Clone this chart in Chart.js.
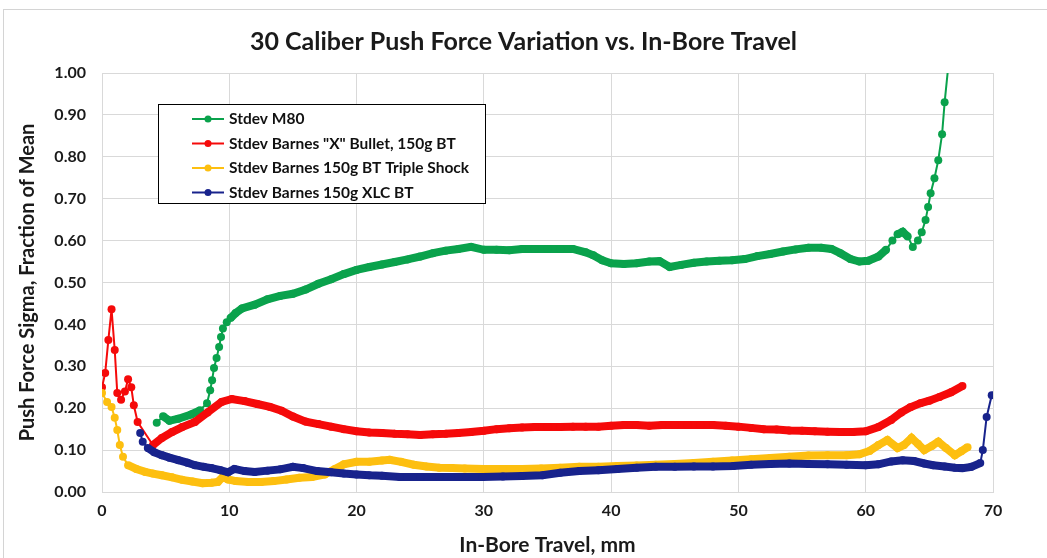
<!DOCTYPE html>
<html>
<head>
<meta charset="utf-8">
<script src="https://cdn.jsdelivr.net/npm/chart.js@4.4.1/dist/chart.umd.min.js"></script>
<style>
    html, body { margin: 0; padding: 0; background: #fff; }
</style>
</head>
<body>
<canvas id="chart" width="1047" height="558"></canvas>
<script>
'use strict';

/* ── Data ────────────────────────────────────────────────────── */
const xTicks = [0, 10, 20, 30, 40, 50, 60, 70];

const seriesNames = [
    'Stdev M80',
    'Stdev Barnes "X" Bullet, 150g BT',
    'Stdev Barnes 150g BT Triple Shock',
    'Stdev Barnes 150g XLC BT',
];

const m80X = [4.3, 4.8, 5.3, 6, 7, 7.7, 8.25, 8.5, 8.65, 8.8, 9.0, 9.2, 9.35, 9.5, 9.8, 10.1, 10.5, 11, 12, 13, 14, 15, 16, 17, 18, 19, 20, 21, 22, 23, 24, 25, 26, 27, 28, 29, 30, 31, 32, 33, 34, 35, 36, 37, 38, 38.6, 39.3, 40, 41, 42, 43, 43.8, 44.6, 45.5, 46.5, 47.5, 48.5, 49.5, 50.5, 51.5, 52.5, 53.5, 54.5, 55.5, 56.5, 57.3, 58, 58.8, 59.5, 60.2, 61, 61.6, 62.1, 62.5, 62.9, 63.3, 63.7, 64.1, 64.4, 64.7, 64.9, 65.1, 65.4, 65.7, 66.0, 66.2, 66.6];
const m80Y = [0.165, 0.181, 0.170, 0.175, 0.185, 0.195, 0.212, 0.243, 0.267, 0.296, 0.32, 0.346, 0.37, 0.39, 0.405, 0.415, 0.427, 0.438, 0.447, 0.46, 0.468, 0.473, 0.483, 0.497, 0.508, 0.52, 0.53, 0.537, 0.543, 0.549, 0.555, 0.562, 0.57, 0.576, 0.58, 0.585, 0.578, 0.578, 0.577, 0.58, 0.58, 0.58, 0.58, 0.58, 0.572, 0.565, 0.553, 0.546, 0.544, 0.546, 0.55, 0.551, 0.537, 0.542, 0.547, 0.55, 0.552, 0.553, 0.556, 0.563, 0.568, 0.574, 0.579, 0.583, 0.583, 0.58, 0.57, 0.556, 0.55, 0.552, 0.562, 0.578, 0.6, 0.615, 0.621, 0.61, 0.585, 0.6, 0.62, 0.649, 0.68, 0.713, 0.749, 0.792, 0.854, 0.93, 1.05];

const xBulletX = [0, 0.25, 0.5, 0.75, 1.0, 1.2, 1.5, 1.8, 2.05, 2.3, 2.5, 2.8, 4.0, 4.7, 5.5, 6.3, 7.3, 8.3, 9.4, 10.2, 11.2, 12.2, 13.2, 14.1, 15, 16, 17, 18, 19, 20, 21, 22, 23, 24, 25, 26, 27, 28, 29, 30, 31, 32, 33, 34, 35, 36, 37, 38, 39, 40, 41, 42, 43, 44, 45, 46, 47, 48, 49, 50, 51, 52, 53, 54, 55, 56, 57, 58, 59, 60, 61, 62, 62.8, 63.5, 64.3, 65, 65.8, 66.7, 67.6];
const xBulletY = [0.25, 0.284, 0.363, 0.436, 0.339, 0.236, 0.22, 0.24, 0.269, 0.25, 0.207, 0.167, 0.112, 0.129, 0.143, 0.155, 0.167, 0.19, 0.215, 0.222, 0.217, 0.21, 0.203, 0.194, 0.18, 0.168, 0.162, 0.156, 0.15, 0.145, 0.142, 0.141, 0.139, 0.138, 0.136, 0.138, 0.139, 0.141, 0.143, 0.146, 0.15, 0.152, 0.154, 0.155, 0.155, 0.155, 0.156, 0.156, 0.156, 0.158, 0.16, 0.16, 0.158, 0.16, 0.16, 0.16, 0.16, 0.16, 0.158, 0.156, 0.153, 0.15, 0.149, 0.147, 0.146, 0.145, 0.144, 0.143, 0.143, 0.145, 0.155, 0.172, 0.19, 0.202, 0.212, 0.218, 0.227, 0.238, 0.253];

const tripleX = [0, 0.4, 0.75, 1.0, 1.2, 1.4, 1.65, 2.05, 2.7, 3.4, 4, 4.7, 5.5, 6.3, 7.1, 7.9, 8.6, 9.1, 9.5, 9.9, 10.5, 11.5, 12.5, 13.5, 14.5, 15.5, 16.5, 17.5, 18.3, 19, 20, 21, 22, 22.6, 23.5, 24.5, 25.5, 26.5, 27.5, 28.5, 30, 31.5, 33, 34.5, 36, 37.5, 39, 40.5, 42, 43.5, 45, 46.5, 48, 49.5, 51, 52.5, 54, 55.5, 57, 58.5, 59.5, 60.3, 61, 61.7, 62.5, 63, 63.6, 64.1, 64.6, 65.2, 65.7, 66.3, 67, 67.5, 68];
const tripleY = [0.236, 0.215, 0.203, 0.177, 0.148, 0.112, 0.084, 0.064, 0.055, 0.048, 0.044, 0.04, 0.035, 0.029, 0.025, 0.021, 0.022, 0.024, 0.036, 0.03, 0.026, 0.024, 0.024, 0.026, 0.03, 0.034, 0.036, 0.042, 0.055, 0.066, 0.072, 0.072, 0.075, 0.077, 0.072, 0.065, 0.061, 0.058, 0.057, 0.056, 0.055, 0.055, 0.055, 0.056, 0.058, 0.06, 0.06, 0.062, 0.063, 0.065, 0.067, 0.069, 0.072, 0.075, 0.078, 0.081, 0.084, 0.087, 0.088, 0.088, 0.09, 0.098, 0.112, 0.124, 0.105, 0.112, 0.129, 0.115, 0.1, 0.11, 0.12, 0.105, 0.088, 0.097, 0.107];

const xlcX = [3.0, 3.2, 3.6, 4.1, 4.7, 5.3, 6.0, 6.7, 7.3, 8, 8.6, 9.3, 9.9, 10.4, 11.2, 12, 13, 14, 15, 15.8, 16.9, 18, 19, 20, 21, 22, 23.4, 25, 26.5, 28, 29.9, 31.5, 33, 34.6, 36, 37.5, 39, 40.5, 42, 43.5, 45, 46.5, 48, 49.6, 51, 52.5, 54, 55.5, 57, 58.5, 60, 61, 62, 62.9, 63.8, 64.6, 65.3, 66.2, 67, 67.6, 68.3, 69.0, 69.2, 69.5, 69.9];
const xlcY = [0.141, 0.12, 0.105, 0.095, 0.088, 0.082, 0.076, 0.07, 0.064, 0.06, 0.057, 0.052, 0.047, 0.055, 0.05, 0.048, 0.051, 0.054, 0.06, 0.057, 0.05, 0.047, 0.044, 0.042, 0.04, 0.039, 0.036, 0.036, 0.036, 0.036, 0.036, 0.037, 0.038, 0.04, 0.046, 0.05, 0.052, 0.055, 0.058, 0.06, 0.06, 0.061, 0.061, 0.062, 0.065, 0.067, 0.068, 0.067, 0.066, 0.065, 0.064, 0.066, 0.073, 0.076, 0.074, 0.068, 0.064, 0.061, 0.058, 0.057, 0.06, 0.069, 0.1, 0.179, 0.231];

/* ── Colours ─────────────────────────────────────────────────── */
const COLORS = {
    green: '#0aa24c',
    red: '#f50a0a',
    gold: '#fdbf10',
    navy: '#18238c',
};
const FONT = 'Lato, "Open Sans", sans-serif';

function zip(xs, ys) {
    return xs.map((x, i) => ({ x, y: ys[i] }));
}

// dense runs of markers in the original read as a thick band, steep parts as thin line + dots
function segWidth(ctx) {
    const dx = Math.abs(ctx.p1.x - ctx.p0.x);
    const dy = Math.abs(ctx.p1.y - ctx.p0.y);
    return dy > dx ? 2 : 8;
}

// later series sit on top, like the spreadsheet original
function series(label, xs, ys, color, order) {
    return {
        label,
        order,
        data: zip(xs, ys),
        borderColor: color,
        backgroundColor: color,
        borderWidth: 8,
        pointRadius: 4,
        pointBorderWidth: 0,
        pointBackgroundColor: color,
        tension: 0,
        clip: 0,
        segment: { borderWidth: segWidth },
    };
}

/* ── Legend box inside the plot ──────────────────────────────── */
const boxLegend = {
    id: 'boxLegend',
    afterDraw(chart) {
        const ctx = chart.ctx;
        const x0 = 158, y0 = 104, w = 327, h = 99;
        ctx.save();
        ctx.fillStyle = '#fff';
        ctx.fillRect(x0, y0, w, h);
        ctx.strokeStyle = '#000';
        ctx.lineWidth = 1;
        ctx.strokeRect(x0 + 0.5, y0 + 0.5, w, h);
        ctx.font = 'bold 15.5px ' + FONT;
        ctx.textBaseline = 'middle';
        chart.data.datasets.forEach((ds, i) => {
            const y = y0 + 15 + i * 24.5;
            ctx.strokeStyle = ds.borderColor;
            ctx.lineWidth = 2;
            ctx.beginPath();
            ctx.moveTo(192, y);
            ctx.lineTo(224, y);
            ctx.stroke();
            ctx.fillStyle = ds.borderColor;
            ctx.beginPath();
            ctx.arc(208, y, 3.5, 0, Math.PI * 2);
            ctx.fill();
            ctx.fillStyle = '#111';
            ctx.fillText(ds.label, 229, y);
        });
        ctx.restore();
    }
};

const outerFrame = {
    id: 'outerFrame',
    afterDraw(chart) {
        const ctx = chart.ctx;
        ctx.save();
        ctx.strokeStyle = '#d4d4d4';
        ctx.lineWidth = 1;
        ctx.strokeRect(3.5, 9.5, 1100, 600);
        ctx.restore();
    }
};

const config = {
    type: 'line',
    data: {
        datasets: [
            series(seriesNames[0], m80X, m80Y, COLORS.green, 4),
            series(seriesNames[1], xBulletX, xBulletY, COLORS.red, 3),
            series(seriesNames[2], tripleX, tripleY, COLORS.gold, 2),
            series(seriesNames[3], xlcX, xlcY, COLORS.navy, 1),
        ]
    },
    options: {
        responsive: false,
        animation: false,
        layout: { padding: 0 },
        scales: {
            x: {
                type: 'linear',
                min: 0, max: 70,
                afterBuildTicks: s => { s.ticks = xTicks.map(v => ({ value: v })); },
                afterFit: s => { s.height = 66; },
                grid: { color: '#d9d9d9', drawTicks: false },
                border: { color: '#d9d9d9' },
                ticks: { color: '#1a1a1a', padding: 9, font: { family: FONT, size: 16, weight: 'bold' } },
                title: { display: true, text: 'In-Bore Travel, mm', color: '#1a1a1a', padding: { top: 0, bottom: 0 }, font: { family: FONT, size: 21, weight: 'bold' } }
            },
            y: {
                min: 0, max: 1,
                afterFit: s => { s.width = 102; },
                grid: { color: '#d9d9d9', drawTicks: false },
                border: { color: '#d9d9d9' },
                ticks: { stepSize: 0.1, color: '#1a1a1a', padding: 16, callback: v => v.toFixed(2), font: { family: FONT, size: 16, weight: 'bold' } },
                title: { display: true, text: 'Push Force Sigma, Fraction of Mean', color: '#1a1a1a', padding: { top: 16, bottom: 0 }, font: { family: FONT, size: 20, weight: 'bold' } }
            },
            yRight: {
                position: 'right',
                min: 0, max: 1,
                afterFit: s => { s.width = 54; },
                grid: { display: false },
                border: { display: false },
                ticks: { display: false }
            }
        },
        plugins: {
            legend: { display: false },
            tooltip: { enabled: false },
            title: {
                display: true,
                text: '30 Caliber Push Force Variation vs. In-Bore Travel',
                color: '#1a1a1a',
                padding: { top: 27, bottom: 16 },
                font: { family: FONT, size: 25, weight: 'bold', lineHeight: 1.2 }
            }
        }
    },
    plugins: [boxLegend, outerFrame]
};

new Chart(document.getElementById('chart'), config);
</script>
</body>
</html>
